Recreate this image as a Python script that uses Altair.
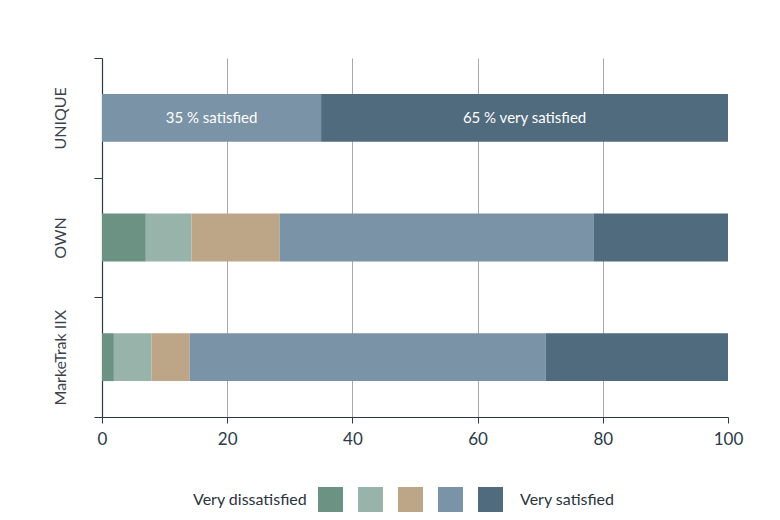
import altair as alt
import pandas as pd

categories = ["UNIQUE", "OWN", "MarkeTrak IIX"]
levels = ["Very dissatisfied", "Dissatisfied", "Neutral", "Satisfied", "Very satisfied"]
colors = ["#6b9283", "#98b3a9", "#bda588", "#7b93a6", "#506a7e"]
unique_vals = [0, 0, 0, 35, 65]
own_vals = [7.0, 7.3, 14.1, 50.1, 21.5]
marketrak_vals = [1.9, 6.0, 6.1, 56.9, 29.1]
bar_texts = {("UNIQUE", "Satisfied"): "35 % satisfied",
             ("UNIQUE", "Very satisfied"): "65 % very satisfied"}
x_ticks = [0, 20, 40, 60, 80, 100]

rows = []
for cat, vals in zip(categories, [unique_vals, own_vals, marketrak_vals]):
    s = 0.0
    for lvl, v in zip(levels, vals):
        if v > 0:
            rows.append({"cat": cat, "level": lvl, "start": s, "end": s + v,
                         "label": bar_texts.get((cat, lvl), "")})
        s += v
df = pd.DataFrame(rows)

FONT = "Lato"
DARK = "#2b3a47"

y_enc = alt.Y("cat:N", sort=categories,
              scale=alt.Scale(paddingInner=0, paddingOuter=0),
              axis=alt.Axis(title=None, tickBand="extent", tickSize=8,
                            labelAngle=270, labelAlign="center",
                            labelBaseline="alphabetic", labelPadding=29,
                            labelFont=FONT, labelFontSize=16, labelColor="#3a434d",
                            domainColor=DARK, tickColor=DARK, domainWidth=1.2,
                            grid=False))
x_enc = alt.X("start:Q", scale=alt.Scale(domain=[0, 100], nice=False),
              axis=alt.Axis(title=None, values=x_ticks, tickSize=6, labelPadding=8,
                            labelFlush=False,
                            labelFont=FONT, labelFontSize=17, labelColor=DARK,
                            domainColor=DARK, tickColor=DARK, domainWidth=1.2,
                            grid=True, gridColor="#a9a9a9", gridWidth=1,
                            gridOpacity={"condition": {"test": "datum.value === 0 || datum.value === 100", "value": 0}, "value": 1}))

bars = alt.Chart(df).mark_bar(opacity=1, height={"band": 0.4}).encode(
    x=x_enc,
    x2="end:Q",
    y=y_enc,
    color=alt.Color("level:N", sort=levels,
                    scale=alt.Scale(domain=levels, range=colors),
                    legend=alt.Legend(orient="none", legendX=91, legendY=429,
                                      direction="horizontal", title="Very dissatisfied",
                                      titleOrient="left", titleFont=FONT, titleFontSize=16,
                                      titleFontWeight="normal", titleColor="#2b3440",
                                      titlePadding=10, titleBaseline="middle",
                                      symbolType="square", symbolSize=625,
                                      symbolStrokeWidth=0, symbolOpacity=1,
                                      labelExpr="''", labelOffset=0, columnPadding=15)),
)

texts = alt.Chart(df).transform_filter("datum.label != ''").transform_calculate(
    mid="(datum.start + datum.end) / 2"
).mark_text(color="white", font=FONT, fontSize=15, baseline="middle").encode(
    x="mid:Q",
    y=alt.Y("cat:N", sort=categories),
    text="label:N",
)

right_label = alt.Chart(pd.DataFrame({"t": ["Very satisfied"]})).mark_text(
    align="left", baseline="middle", font=FONT, fontSize=16, color="#2b3440"
).encode(x=alt.value(418), y=alt.value(441.5), text="t:N")

chart = alt.layer(bars, texts, right_label).properties(
    width=626, height=359,
    autosize=alt.AutoSizeParams(type="none"),
    padding={"left": 102, "top": 58, "right": 52, "bottom": 103},
    background="white",
).configure_view(stroke=None)

chart.save("out.html", embed_options={"renderer": "svg", "actions": False})
